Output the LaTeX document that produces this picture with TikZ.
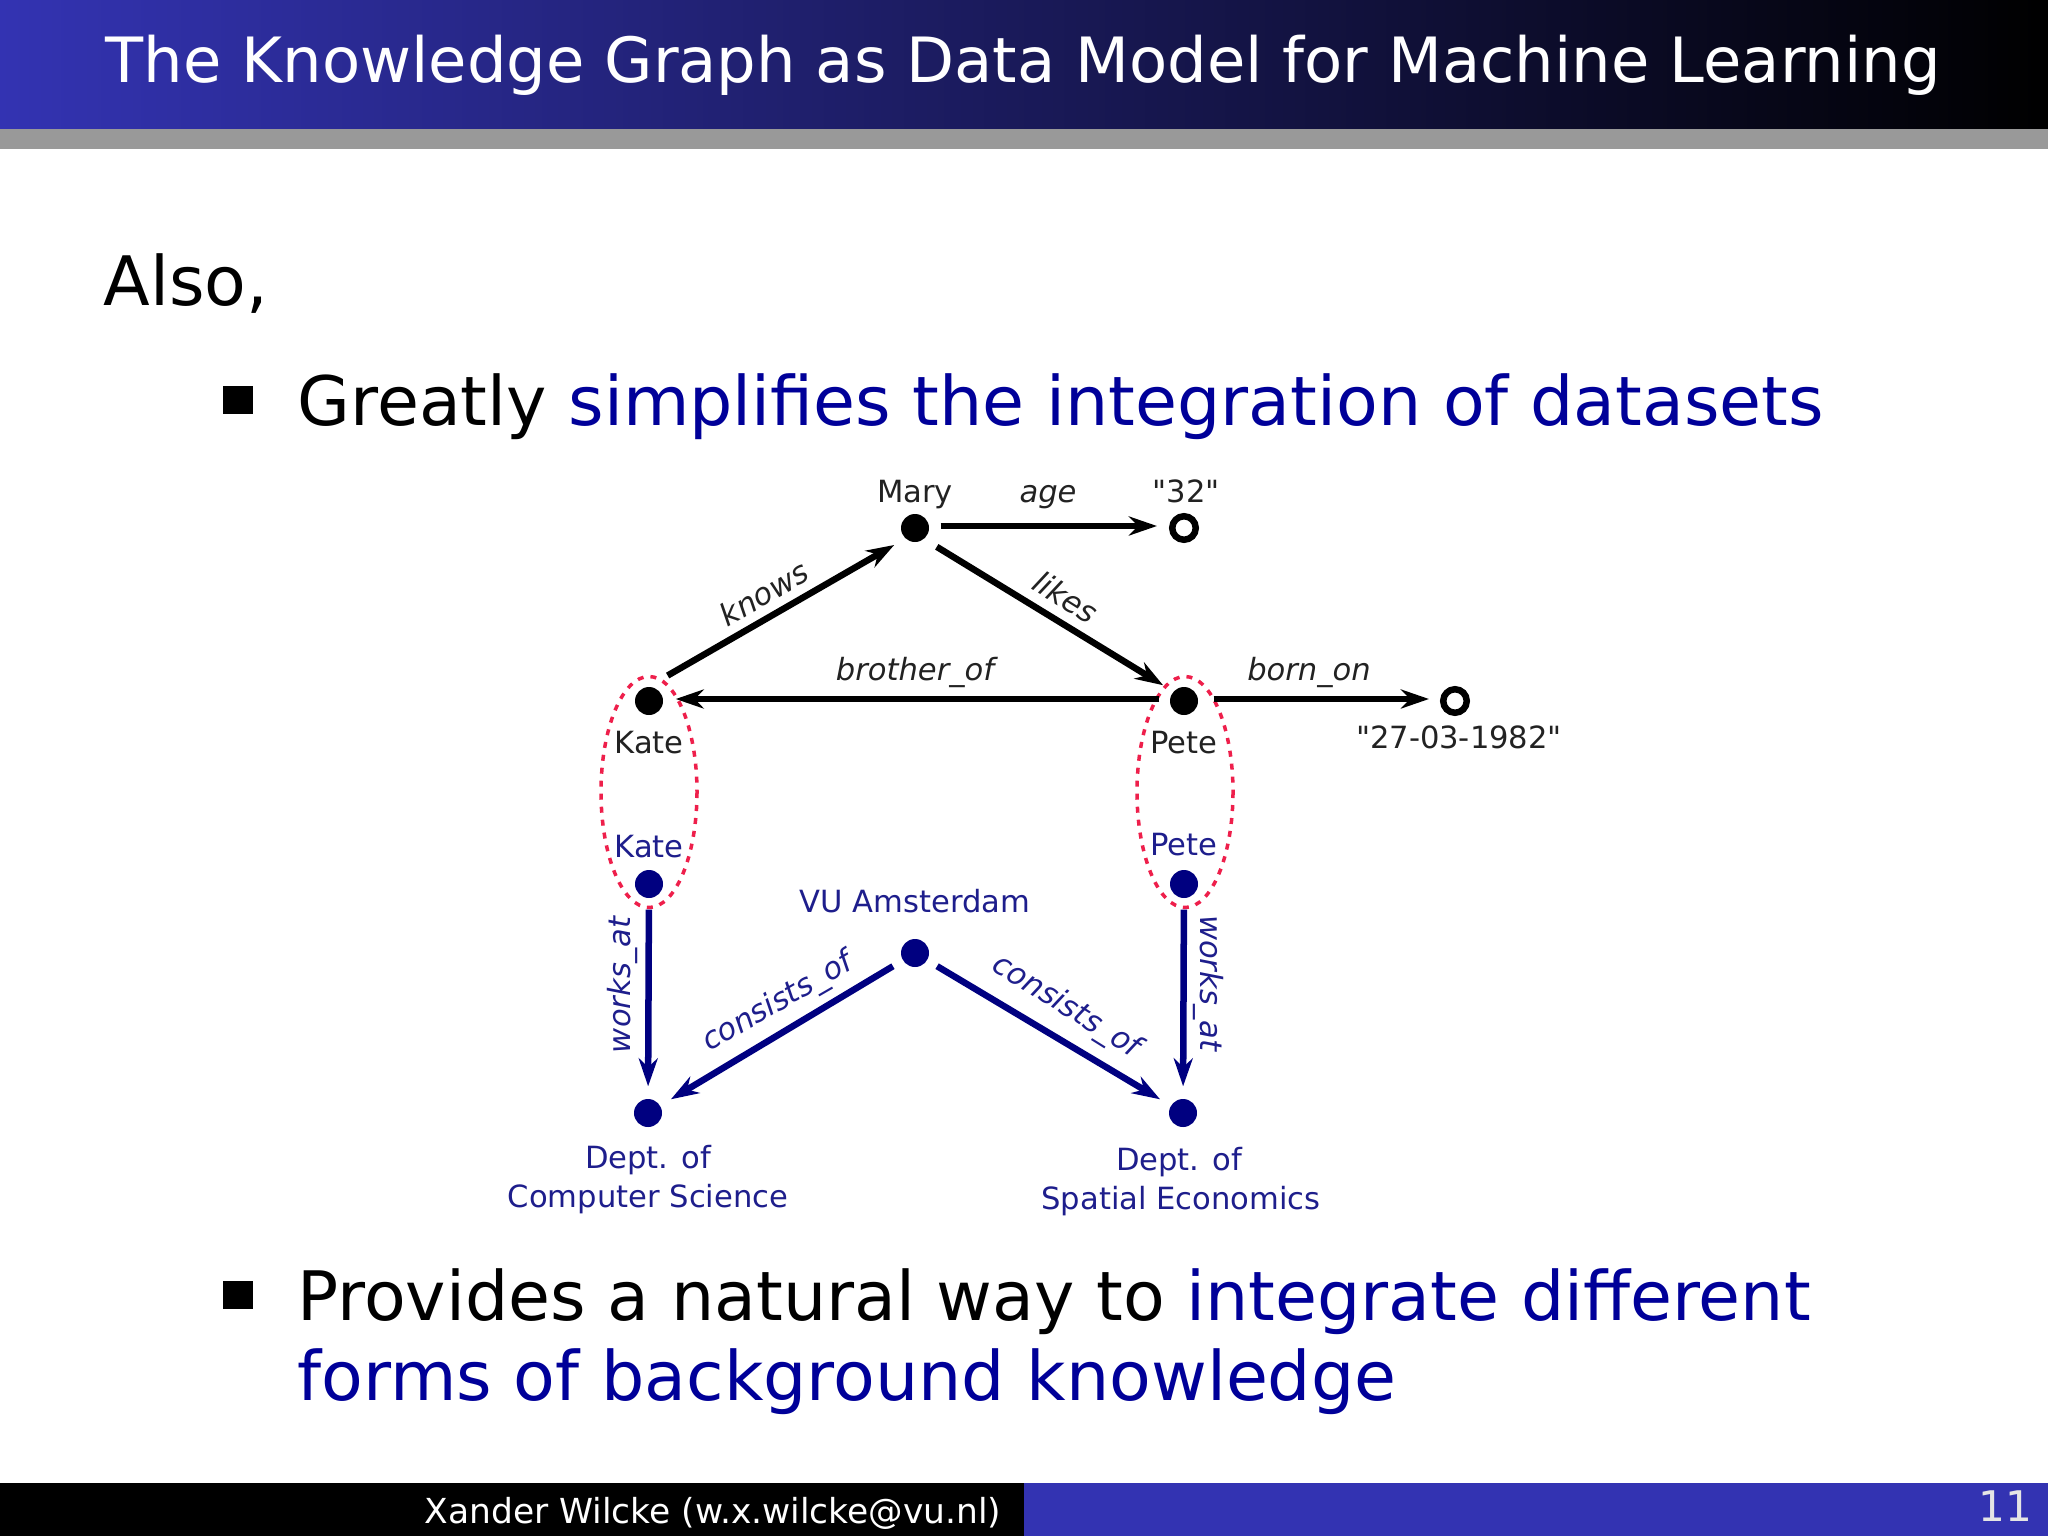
\documentclass[tikz,border=0pt]{standalone}
\usepackage{fontspec}
\setmainfont{DejaVu Sans}
\newfontfamily\plainfont{DejaVu Sans}
\usetikzlibrary{arrows.meta}
\definecolor{barblue}{HTML}{3333B2}
\definecolor{textblue}{HTML}{000099}
\definecolor{dotblue}{HTML}{000080}
\definecolor{labelblue}{HTML}{1E1E8C}
\definecolor{labelgray}{HTML}{222222}
\definecolor{ringred}{HTML}{EE1F4B}
\tikzset{
    px/.style={x=0.01cm,y=-0.01cm},
    body/.style={anchor=base west,inner sep=0pt,font=\fontsize{19.4}{23}\selectfont},
    bullet/.style={fill=black,inner sep=0pt,minimum width=3mm,minimum height=2.75mm},
    dotblack/.style={circle,fill=black,inner sep=0pt,minimum size=2.8mm},
    dotblue/.style={dotblack,fill=dotblue},
    dotopen/.style={circle,draw=black,fill=white,line width=.65mm,inner sep=0pt,minimum size=2.35mm},
    lab/.style={anchor=base,inner sep=0pt,text=labelgray,font=\fontsize{8.7}{10}\selectfont},
    labb/.style={lab,text=labelblue},
    rel/.style={lab,font=\fontsize{8.7}{10}\selectfont\itshape},
    relb/.style={rel,text=labelblue},
    arr/.style={->,line width=.65mm,shorten <=1.1mm,shorten >=1.2mm},
    arrb/.style={arr,draw=dotblue},
    ring/.style={draw=ringred,line width=.35mm,dash pattern=on .6mm off .7mm},
}
\begin{document}
\begin{tikzpicture}[px,>={Stealth[length=2.8mm,width=1.9mm]}]
    \useasboundingbox (0,0) rectangle (2048,1536);
    \fill[white] (0,0) rectangle (2048,1536);
    %===========================================
    \shade[left color=barblue,right color=black] (0,0) rectangle (2048,129);
    \fill[black!40] (0,129) rectangle (2048,149);
    \fill[black] (0,1483) rectangle (1024,1536);
    \fill[barblue] (1024,1483) rectangle (2048,1536);
    \node[body,text=white,font=\fontsize{17.75}{22}\selectfont] (title) at (105,82) {The Knowledge Graph as Data Model for Machine Learning};
    \node[anchor=base east,inner sep=0pt,text=white,font=\fontsize{9.8}{12}\selectfont] (author) at (1002,1523) {Xander Wilcke (w.x.wilcke@vu.nl)};
    \node[anchor=base east,inner sep=0pt,text=black!10,font=\fontsize{12}{13}\selectfont] (page) at (2033,1521) {11};
    %===========================================
    \node[body] (also) at (103,305) {Also,};
    \node[bullet] (bulleta) at (238,400) {};
    \node[bullet] (bulletb) at (238,1295) {};
    \node[body] (itema) at (297,425) {Greatly \textcolor{textblue}{simplifies the integration of datasets}};
    \node[body] (itemb) at (297,1320) {Provides a natural way to \textcolor{textblue}{integrate different}};
    \node[body,text=textblue] (itemc) at (297,1400) {forms of background knowledge};
    %===========================================
    \node[dotblack] (mary) at (915,528) {};
    \node[dotopen] (thirtytwo) at (1184,528) {};
    \node[dotblack] (kate) at (649,701) {};
    \node[dotblack] (pete) at (1184,701) {};
    \node[dotopen] (birth) at (1455,701) {};
    \node[dotblue] (kateb) at (649,884) {};
    \node[dotblue] (peteb) at (1184,884) {};
    \node[dotblue] (vu) at (915,953) {};
    \node[dotblue] (cs) at (648,1113) {};
    \node[dotblue] (se) at (1183,1113) {};
    \draw[ring] (649,792) ellipse (48 and 115.5);
    \draw[ring] (1185,792) ellipse (48 and 115.5);
    %===========================================
    \draw[arr] ([yshift=.2mm]mary.east) -- ([yshift=.2mm]thirtytwo.west);
    \draw[arr,shorten <=2.15mm,shorten >=2.4mm] (kate.north) -- ([yshift=-.5mm]mary.center);
    \draw[arr,shorten <=2.55mm,shorten >=2.45mm] ([yshift=-.55mm]mary.center) -- ([yshift=.3mm]pete.center);
    \draw[arr,shorten >=1.2mm,shorten <=1.0mm] ([yshift=.2mm]pete.west) -- ([yshift=.2mm]kate.east);
    \draw[arr,shorten <=1.5mm,shorten >=1.1mm] ([yshift=.2mm]pete.east) -- ([yshift=.2mm]birth.west);
    \draw[arrb] (kateb) -- (cs);
    \draw[arrb] (peteb) -- (se);
    \draw[arrb] (vu) -- (cs);
    \draw[arrb] (vu) -- (se);
    %===========================================
    \node[lab] (lmary) at (915,502) {Mary};
    \node[lab] (lthirtytwo) at (1186,502) {{\plainfont"32"}};
    \node[lab] (lkate) at (649,753) {Kate};
    \node[lab] (lpete) at (1184,753) {Pete};
    \node[lab] (lbirth) at (1459,748) {{\plainfont"27-03-1982"}};
    \node[labb] (lkateb) at (649,857) {Kate};
    \node[labb] (lpeteb) at (1184,855) {Pete};
    \node[labb] (lvu) at (915,912) {VU Amsterdam};
    \node[labb] (lcsa) at (648,1168) {Dept. of};
    \node[labb] (lcsb) at (648,1207) {Computer Science};
    \node[labb] (lsea) at (1179,1170) {Dept. of};
    \node[labb] (lseb) at (1181,1209) {Spatial Economics};
    \node[rel] (lage) at (1048,502) {age};
    \node[rel] (lbrother) at (915,680) {brother\_of};
    \node[rel] (lborn) at (1309,680) {born\_on};
    \node[rel,anchor=center,rotate=30] (lknows) at (764,593) {knows};
    \node[rel,anchor=center,rotate=-32] (llikes) at (1066,597) {likes};
    \node[relb,anchor=center,rotate=90] (lworksa) at (622,985) {works\_at};
    \node[relb,anchor=center,rotate=-90] (lworksb) at (1209,983) {works\_at};
    \node[relb,anchor=center,rotate=30] (lconsa) at (778,1003) {consists\_of};
    \node[relb,anchor=center,rotate=-32] (lconsb) at (1066,1007) {consists\_of};
\end{tikzpicture}
\end{document}
